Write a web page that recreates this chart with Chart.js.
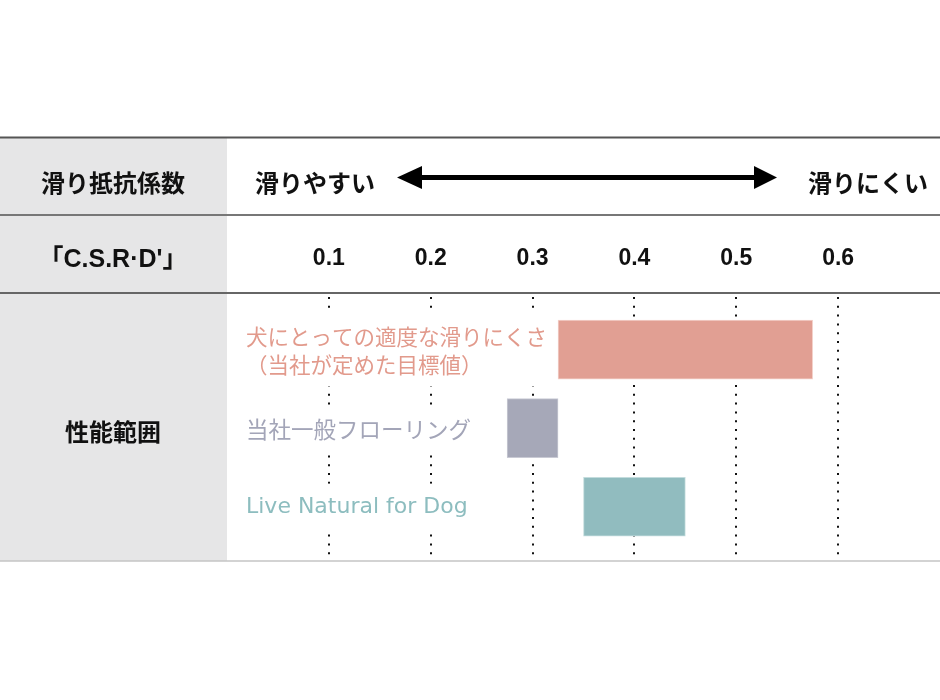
<!DOCTYPE html>
<html>
<head>
<meta charset="utf-8">
<script src="https://cdn.jsdelivr.net/npm/chart.js@4.4.1/dist/chart.umd.min.js"></script>
<style>
  html, body { margin: 0; padding: 0; background: #fff; }
  #wrap { width: 940px; height: 700px; }
</style>
</head>
<body>
<div id="wrap"><canvas id="chart" width="940" height="700"></canvas></div>
<script>
// データ
const categories = [
  ['犬にとっての適度な滑りにくさ', '（当社が定めた目標値）'],
  ['当社一般フローリング'],
  ['Live Natural for Dog']
];
const rangeLow = [0.325, 0.275, 0.35];
const rangeHigh = [0.575, 0.325, 0.45];
const tickValues = [0.1, 0.2, 0.3, 0.4, 0.5, 0.6];
const rowHeaders = ['滑り抵抗係数', '「C.S.R·D\'」', '性能範囲'];
const arrowLabels = ['滑りやすい', '滑りにくい'];

const barColors = ['#e19f93', '#a6a8b8', '#91bcbf'];
const barBorders = ['#f3d2cb', '#c9cad4', '#c3dcdd'];
const labelColors = ['#e29a8c', '#a3a5b8', '#8dbdbf'];

const JP = '"Noto Sans CJK JP", "Noto Sans", sans-serif';
const labelFonts = ['21.5px ' + JP, '22.5px ' + JP, '22px "DejaVu Sans", sans-serif'];

// 表の枠・見出し
const tablePlugin = {
  id: 'table',
  beforeDraw(chart) {
    const c = chart.ctx;
    c.save();
    c.fillStyle = '#fff';
    c.fillRect(0, 0, chart.width, chart.height);
    c.fillStyle = '#e6e6e7';
    c.fillRect(0, 138, 227, 423);
    c.restore();
  },
  afterDraw(chart) {
    const c = chart.ctx;
    c.save();
    // 罫線
    const rule = (yy, col, w) => {
      c.strokeStyle = col; c.lineWidth = w;
      c.beginPath(); c.moveTo(0, yy); c.lineTo(940, yy); c.stroke();
    };
    rule(137.5, '#555', 2);
    rule(215, '#777', 2);
    rule(293, '#666', 2);
    rule(561, '#c4c4c4', 1.5);

    // 行見出し
    c.fillStyle = '#111';
    c.textAlign = 'center';
    c.textBaseline = 'middle';
    c.font = 'bold 24px ' + JP;
    c.fillText(rowHeaders[0], 113, 183);
    c.font = 'bold 25px "Liberation Sans", ' + JP;
    c.fillText(rowHeaders[1], 113, 260);
    c.font = 'bold 24px ' + JP;
    c.fillText(rowHeaders[2], 113, 432);

    // 矢印
    c.font = 'bold 24px ' + JP;
    c.textAlign = 'left';
    c.fillText(arrowLabels[0], 255, 183);
    c.fillText(arrowLabels[1], 808, 183);
    c.fillStyle = '#000';
    c.fillRect(418, 175, 340, 5);
    c.beginPath();
    c.moveTo(397, 177.5); c.lineTo(422, 166); c.lineTo(422, 189); c.closePath(); c.fill();
    c.beginPath();
    c.moveTo(777, 177.5); c.lineTo(754, 166); c.lineTo(754, 189); c.closePath(); c.fill();

    c.restore();
  },
  afterDatasetsDraw(chart) {
    // カテゴリ名（白地で点線を隠す）
    const c = chart.ctx;
    const ys = chart.scales.y;
    c.save();
    c.textAlign = 'left';
    c.textBaseline = 'middle';
    categories.forEach((lines, i) => {
      c.font = labelFonts[i];
      const cy = ys.getPixelForValue(i + 1);
      const lh = 28;
      const w = Math.max(...lines.map(l => c.measureText(l).width));
      const h = lines.length * lh;
      c.fillStyle = '#fff';
      c.fillRect(240, cy - h / 2 - 9, w + 10, h + 18);
      c.fillStyle = labelColors[i];
      lines.forEach((l, k) => {
        c.fillText(l, 246, cy - h / 2 + lh / 2 + k * lh + 1);
      });
    });
    c.restore();
  }
};

new Chart(document.getElementById('chart'), {
  type: 'bar',
  data: {
    datasets: [{
      data: categories.map((_, i) => ({ y: i + 1, x: [rangeLow[i], rangeHigh[i]] })),
      backgroundColor: barColors,
      borderColor: barBorders,
      borderWidth: 1,
      borderSkipped: false,
      barThickness: 59
    }]
  },
  options: {
    indexAxis: 'y',
    responsive: false,
    animation: false,
    layout: { padding: { left: 227, right: 0, top: 248, bottom: 139 } },
    plugins: {
      legend: { display: false },
      tooltip: { enabled: false }
    },
    scales: {
      x: {
        type: 'linear',
        position: 'top',
        min: 0,
        max: 0.7,
        afterBuildTicks: s => { s.ticks = tickValues.map(v => ({ value: v })); },
        afterFit: s => { s.height = 45; },
        ticks: {
          padding: 21,
          color: '#111',
          font: { family: '"Liberation Sans", Arial, sans-serif', size: 23, weight: 'bold' },
          callback: v => v.toFixed(1)
        },
        grid: { color: '#111', lineWidth: 2, drawTicks: false },
        border: { display: false, dash: [2, 6.8], dashOffset: -4 }
      },
      y: {
        type: 'linear',
        min: 0.28,
        max: 3.69,
        reverse: true,
        offset: false,
        display: false
      }
    }
  },
  plugins: [tablePlugin]
});
</script>
</body>
</html>
